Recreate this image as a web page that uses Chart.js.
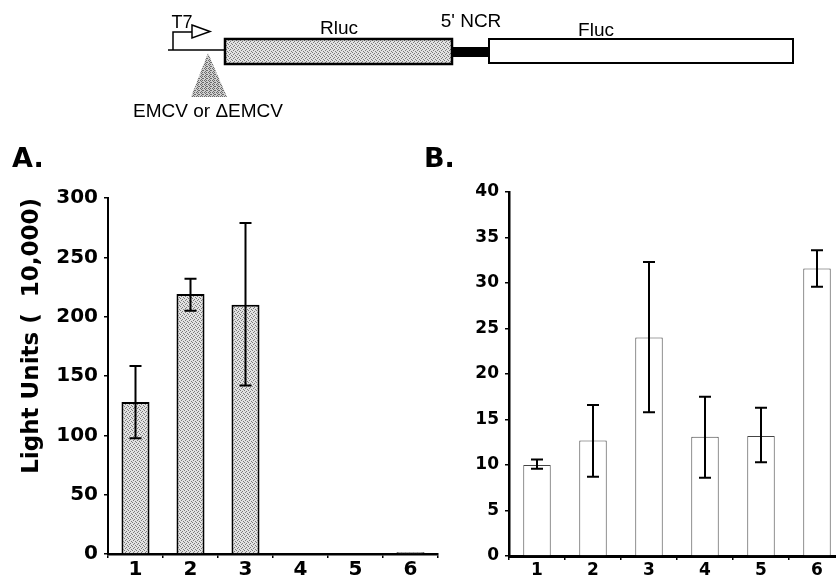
<!DOCTYPE html>
<html>
<head>
<meta charset="utf-8">
<script src="https://cdn.jsdelivr.net/npm/chart.js@4.4.0/dist/chart.umd.min.js"></script>
<style>
  html, body { margin: 0; padding: 0; background: #fff; }
  #page { position: relative; width: 836px; height: 576px; overflow: hidden; background: #fff; }
  canvas { position: absolute; }
  .panel { position: absolute; font-family: "DejaVu Sans"; font-weight: bold; font-size: 27px; line-height: 27px; color: #000; }
</style>
</head>
<body>
<div id="page">
  <canvas id="diagram" width="836" height="130" style="left:0px;top:0px"></canvas>
  <canvas id="chartA" width="440" height="446" style="left:0px;top:130px"></canvas>
  <canvas id="chartB" width="430" height="446" style="left:420px;top:130px"></canvas>
  <div class="panel" style="left:12px;top:144px">A.</div>
  <div class="panel" style="left:424px;top:144px">B.</div>
</div>
<script>
// Datos
const lanes = ["1", "2", "3", "4", "5", "6"];

// Panel A: Rluc (light units x 10,000)
const rlucValues = [128, 219, 210, 0.8, 0.8, 1.5];
const rlucErrHigh = [158.5, 232, 279, null, null, null];
const rlucErrLow = [97.5, 205, 142, null, null, null];
const rlucTicks = [0, 50, 100, 150, 200, 250, 300];

// Panel B: Fluc
const flucValues = [10.0, 12.7, 24.0, 13.1, 13.2, 31.6];
const flucErrHigh = [10.6, 16.6, 32.3, 17.5, 16.3, 33.6];
const flucErrLow = [9.6, 8.7, 15.8, 8.6, 10.3, 29.6];
const flucTicks = [0, 5, 10, 15, 20, 25, 30, 35, 40];

Chart.defaults.font.family = "DejaVu Sans";
Chart.defaults.color = "#000";

// Trama gris tipo semitono
function makeStipple(light, dark, dots) {
  const c = document.createElement("canvas");
  c.width = 4;
  c.height = 4;
  const g = c.getContext("2d");
  g.fillStyle = light;
  g.fillRect(0, 0, 4, 4);
  g.fillStyle = dark;
  dots.forEach(function (d) { g.fillRect(d[0], d[1], 1, 1); });
  return g.createPattern(c, "repeat");
}

const ctxD = document.getElementById("diagram").getContext("2d");
const boxFill = makeStipple("#e2e2e2", "#7a7a7a", [[0, 0], [2, 1], [1, 2], [3, 3]]);
const triFill = makeStipple("#cfcfcf", "#6a6a6a", [[0, 0], [2, 0], [1, 1], [3, 2], [1, 3], [2, 2]]);

// Esquema del constructo
function drawDiagram(g) {
  g.strokeStyle = "#000";
  g.lineJoin = "miter";

  // linea de entrada
  g.lineWidth = 1.5;
  g.beginPath();
  g.moveTo(168, 50);
  g.lineTo(225, 50);
  g.stroke();

  // promotor T7
  g.beginPath();
  g.moveTo(173, 50);
  g.lineTo(173, 32);
  g.lineTo(192, 32);
  g.stroke();
  g.beginPath();
  g.moveTo(192, 25);
  g.lineTo(210, 31.5);
  g.lineTo(192, 38);
  g.closePath();
  g.fillStyle = "#fff";
  g.fill();
  g.stroke();

  // triangulo EMCV
  g.beginPath();
  g.moveTo(208, 53);
  g.lineTo(227, 97);
  g.lineTo(191, 97);
  g.closePath();
  g.fillStyle = triFill;
  g.fill();

  // Rluc
  g.fillStyle = boxFill;
  g.fillRect(225, 39, 227, 25);
  g.lineWidth = 2.5;
  g.strokeRect(225, 39, 227, 25);

  // 5' NCR
  g.fillStyle = "#000";
  g.fillRect(452, 47, 37, 10);

  // Fluc
  g.fillStyle = "#fff";
  g.fillRect(489, 39, 304, 24);
  g.lineWidth = 2;
  g.strokeRect(489, 39, 304, 24);

  g.fillStyle = "#000";
  g.textBaseline = "alphabetic";
  g.textAlign = "center";
  g.font = "18px 'Liberation Sans'";
  g.fillText("T7", 182, 28);
  g.font = "19px 'Liberation Sans'";
  g.fillText("Rluc", 339, 34);
  g.fillText("5' NCR", 471, 27);
  g.fillText("Fluc", 596, 36);
  g.fillText("EMCV or \u0394EMCV", 208, 117);
}
drawDiagram(ctxD);

// Barras de error
const errorBars = {
  id: "errorBars",
  afterDatasetsDraw(chart, args, opts) {
    const g = chart.ctx;
    const meta = chart.getDatasetMeta(0);
    const y = chart.scales.y;
    g.save();
    g.strokeStyle = "#000";
    g.lineWidth = opts.lineWidth;
    meta.data.forEach(function (bar, i) {
      if (opts.high[i] == null) return;
      const yh = y.getPixelForValue(opts.high[i]);
      const yl = y.getPixelForValue(opts.low[i]);
      const w = opts.cap / 2;
      g.beginPath();
      g.moveTo(bar.x, yh);
      g.lineTo(bar.x, yl);
      g.moveTo(bar.x - w, yh);
      g.lineTo(bar.x + w, yh);
      g.moveTo(bar.x - w, yl);
      g.lineTo(bar.x + w, yl);
      g.stroke();
    });
    g.restore();
  },
};

function makeChart(id, cfg) {
  return new Chart(document.getElementById(id), {
    type: "bar",
    data: {
      labels: lanes,
      datasets: [
        {
          data: cfg.values,
          backgroundColor: cfg.fill,
          borderColor: cfg.border,
          borderWidth: cfg.borderWidth,
          barPercentage: cfg.barPct,
          categoryPercentage: 1,
        },
      ],
    },
    options: {
      responsive: false,
      animation: false,
      events: [],
      layout: { padding: cfg.padding },
      plugins: {
        legend: { display: false },
        tooltip: { enabled: false },
        errorBars: { high: cfg.high, low: cfg.low, cap: 12, lineWidth: 2 },
      },
      scales: {
        x: {
          offset: true,
          afterFit: function (s) { s.height = cfg.xHeight; },
          grid: { offset: true, drawOnChartArea: false, color: "#000", lineWidth: 1.5, tickLength: 4 },
          border: { color: "#000", width: cfg.axisWidth },
          ticks: { font: { size: cfg.fontSize, weight: "bold" }, padding: 0, color: "#000" },
        },
        y: {
          min: 0,
          max: cfg.ticks[cfg.ticks.length - 1],
          afterFit: function (s) { s.width = cfg.yWidth; },
          afterBuildTicks: function (s) { s.ticks = cfg.ticks.map(function (v) { return { value: v }; }); },
          grid: { drawOnChartArea: false, color: "#000", lineWidth: 1.5, tickLength: 4 },
          border: { color: "#000", width: cfg.yAxisWidth },
          ticks: { font: { size: cfg.fontSize, weight: "bold" }, padding: 6, color: "#000" },
          title: cfg.title,
        },
      },
    },
    plugins: [errorBars],
  });
}

makeChart("chartA", {
  values: rlucValues,
  high: rlucErrHigh,
  low: rlucErrLow,
  ticks: rlucTicks,
  fill: boxFill,
  border: "#000",
  borderWidth: 2,
  barPct: 0.51,
  padding: { left: 0, top: 68, right: 2, bottom: 0 },
  xHeight: 22,
  yWidth: 108,
  axisWidth: 2.5,
  yAxisWidth: 2,
  fontSize: 20,
  title: {
    display: true,
    text: "Light Units (  10,000)",
    align: "end",
    font: { size: 23, weight: "bold" },
    padding: { top: 18, bottom: 0 },
    color: "#000",
  },
});

makeChart("chartB", {
  values: flucValues,
  high: flucErrHigh,
  low: flucErrLow,
  ticks: flucTicks,
  fill: "#fff",
  border: "#444",
  borderWidth: 1,
  barPct: 0.49,
  padding: { left: 0, top: 62, right: 5, bottom: 0 },
  xHeight: 20,
  yWidth: 89,
  axisWidth: 3,
  yAxisWidth: 2.5,
  fontSize: 17,
  title: { display: false },
});
</script>
</body>
</html>
